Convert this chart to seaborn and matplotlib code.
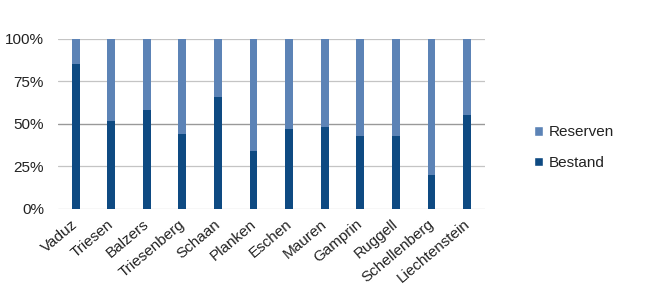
import matplotlib
matplotlib.use("Agg")
import matplotlib.pyplot as plt
import seaborn as sns
import pandas as pd
from matplotlib.patches import Patch
from matplotlib.ticker import FuncFormatter
import matplotlib.transforms as mtransforms

categories = ["Vaduz", "Triesen", "Balzers", "Triesenberg", "Schaan", "Planken",
              "Eschen", "Mauren", "Gamprin", "Ruggell", "Schellenberg", "Liechtenstein"]
bestand = [85, 52, 58, 44, 66, 34, 47, 48, 43, 43, 20, 55]
reserven = [100 - b for b in bestand]
y_ticks = [0, 25, 50, 75, 100]

sns.set_theme(style="white")
plt.rcParams['font.family'] = ['Liberation Sans', 'DejaVu Sans']

df = pd.DataFrame({"Gemeinde": categories, "Bestand": bestand, "Reserven": reserven})
df["Total"] = df["Bestand"] + df["Reserven"]

c_best = "#0e4a82"
c_res = "#5c83b6"

fig = plt.figure(figsize=(6.5, 2.95), dpi=100)
ax = fig.add_axes([0.089, 0.292, 0.657, 0.576])

for y in y_ticks:
    ax.axhline(y, color="#999999" if y == 50 else "#c4c4c4", lw=1.0 if y == 50 else 0.9, zorder=0)

sns.barplot(data=df, x="Gemeinde", y="Total", color=c_res, width=0.22, ax=ax,
            saturation=1, zorder=2, edgecolor="none")
sns.barplot(data=df, x="Gemeinde", y="Bestand", color=c_best, width=0.22, ax=ax,
            saturation=1, zorder=3, edgecolor="none")

ax.set_ylim(0, 100)
ax.set_xlim(-0.5, len(categories) - 0.5)
ax.set_yticks(y_ticks)
ax.yaxis.set_major_formatter(FuncFormatter(lambda v, p: f"{int(v)}%"))
ax.set_xlabel("")
ax.set_ylabel("")
for s in ax.spines.values():
    s.set_visible(False)
ax.tick_params(axis="both", length=0, labelsize=11, colors="#222222")
ax.tick_params(axis="y", pad=10)
ax.tick_params(axis="x", pad=6)
offset = mtransforms.ScaledTranslation(-4 / 100, 0, fig.dpi_scale_trans)
for lab in ax.get_xticklabels():
    lab.set_rotation(40)
    lab.set_ha("right")
    lab.set_rotation_mode("anchor")
    lab.set_transform(lab.get_transform() + offset)

handles = [Patch(facecolor=c_res, label="Reserven"), Patch(facecolor=c_best, label="Bestand")]
fig.legend(handles=handles, loc="center left", bbox_to_anchor=(0.80, 0.50), frameon=False,
           fontsize=11, handlelength=0.6, handleheight=0.6, handletextpad=0.4,
           labelspacing=1.1, labelcolor="#222222")

fig.savefig("out.png", dpi=100)
